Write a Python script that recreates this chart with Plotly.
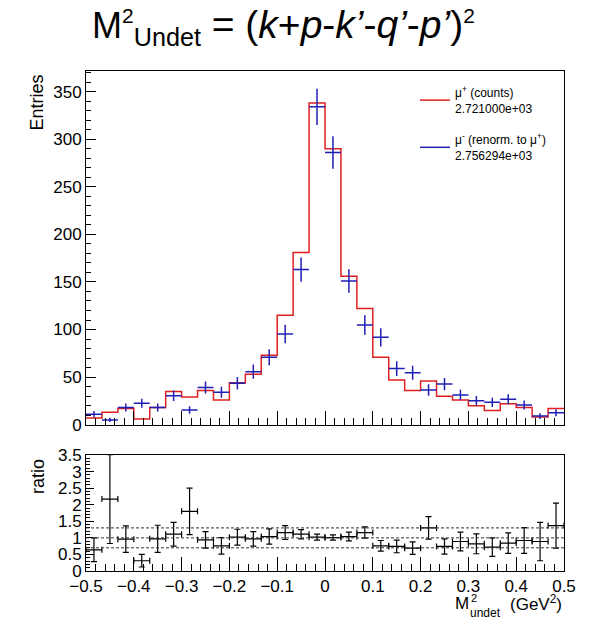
import numpy as np
import plotly.graph_objects as go

# ---------------- data ----------------
x_lo, x_hi, n_bins = -0.5, 0.5, 30
mu_plus_counts = [7, 13, 17, 6, 18, 35, 29, 36, 26, 44, 53, 73, 115, 181, 338,
                  290, 156, 122, 71, 47, 36, 46, 30, 26, 20, 15, 22, 18, 8, 17]
mu_minus_vals = [11, 5, 18, 22.5, 18, 30.5, 15.4, 39, 34, 43.5, 55.7, 70.8, 95.3, 163, 334,
                 286, 151, 104.7, 91.8, 59, 54.6, 36.5, 42.7, 31.2, 25.2, 23.5, 26.7, 20.7, 9.1, 12.6]
mu_minus_errs = [3.3, 2.2, 4.2, 4.8, 4.2, 5.5, 3.9, 6.3, 5.8, 6.6, 7.5, 8.4, 9.8, 12.8, 19,
                 17, 12.3, 10.2, 9.6, 7.7, 7.4, 6.0, 6.5, 5.6, 5.0, 4.8, 5.2, 4.6, 3.0, 3.6]
ratio_vals = [0.64, 2.17, 0.96, 0.31, 0.97, 1.11, 1.80, 0.94, 0.76, 1.02, 0.97, 1.04, 1.16, 1.11, 1.02,
              1.01, 1.04, 1.16, 0.76, 0.74, 0.69, 1.30, 0.74, 0.89, 0.82, 0.72, 0.84, 0.92, 0.89, 1.37]
ratio_errs = [0.36, 1.34, 0.40, 0.19, 0.41, 0.36, 0.70, 0.25, 0.25, 0.24, 0.22, 0.23, 0.21, 0.14, 0.09,
              0.08, 0.13, 0.17, 0.16, 0.19, 0.19, 0.34, 0.23, 0.28, 0.30, 0.28, 0.31, 0.39, 0.58, 0.68]
ref_levels = [0.7, 1.0, 1.3]
legend_plus = "μ<sup>+</sup> (counts)<br>2.721000e+03"
legend_minus = "μ<sup>-</sup> (renorm. to μ<sup>+</sup>)<br>2.756294e+03"

edges = np.linspace(x_lo, x_hi, n_bins + 1)
centers = 0.5 * (edges[:-1] + edges[1:])
half_w = 0.5 * (edges[1] - edges[0])

RED = "#e02020"
BLUE = "#1f1fb4"
FONT = "Liberation Sans, Arial, sans-serif"

fig = go.Figure()

# red step histogram
step_x = list(edges)
step_y = list(mu_plus_counts) + [mu_plus_counts[-1]]
fig.add_trace(go.Scatter(x=step_x, y=step_y, mode="lines", line=dict(color=RED, width=1.5, shape="hv"),
                         name=legend_plus, legendgroup="a", xaxis="x", yaxis="y"))
# blue points
fig.add_trace(go.Scatter(x=centers, y=mu_minus_vals, mode="markers", marker=dict(size=0.1, color=BLUE),
                         error_y=dict(type="data", array=mu_minus_errs, color=BLUE, thickness=1.5, width=0),
                         error_x=dict(type="constant", value=half_w, color=BLUE, thickness=1.5, width=0),
                         showlegend=False, xaxis="x", yaxis="y"))
fig.add_trace(go.Scatter(x=[None], y=[None], mode="lines", line=dict(color=BLUE, width=1.5),
                         name=legend_minus, legendgroup="b", xaxis="x", yaxis="y"))

# ratio
fig.add_trace(go.Scatter(x=centers, y=ratio_vals, mode="markers", marker=dict(size=0.1, color="black"),
                         error_y=dict(type="data", array=ratio_errs, color="black", thickness=1.2, width=3),
                         error_x=dict(type="constant", value=half_w, color="black", thickness=1.2, width=3),
                         showlegend=False, xaxis="x2", yaxis="y2"))
for lv in ref_levels:
    fig.add_shape(type="line", xref="x2", yref="y2", x0=x_lo, x1=x_hi, y0=lv, y1=lv,
                  line=dict(color="#333333", width=1, dash="3px,2px"))

axis_common = dict(showline=True, mirror=True, linecolor="black", linewidth=1, showgrid=False,
                   zeroline=False, ticks="inside", tickcolor="black", tickwidth=1, automargin=False,
                   tickfont=dict(family=FONT, size=17, color="black"))
xd = [86 / 590, 564 / 590]
fig.update_layout(
    width=590, height=620, margin=dict(l=0, r=0, t=0, b=0),
    paper_bgcolor="white", plot_bgcolor="white",
    font=dict(family=FONT, color="black"),
    xaxis=dict(domain=xd, anchor="y", range=[x_lo, x_hi], dtick=0.1, tick0=0, ticklen=14,
               showticklabels=False, minor=dict(ticks="inside", dtick=0.02, ticklen=7, tickcolor="black"),
               **axis_common),
    yaxis=dict(domain=[(620 - 424.7) / 620, (620 - 70.7) / 620], anchor="x", range=[0, 372], dtick=50,
               ticklen=10, minor=dict(ticks="inside", dtick=10, ticklen=5, tickcolor="black"), **axis_common),
    xaxis2=dict(domain=xd, anchor="y2", range=[x_lo, x_hi], dtick=0.1, tick0=0, ticklen=14, matches="x",
                minor=dict(ticks="inside", dtick=0.02, ticklen=7, tickcolor="black"), **axis_common),
    yaxis2=dict(domain=[(620 - 571) / 620, (620 - 455) / 620], anchor="x2", range=[0, 3.5], dtick=0.5,
                ticklen=8, minor=dict(ticks="inside", dtick=0.1, ticklen=4, tickcolor="black"), **axis_common),
    legend=dict(x=415 / 590, y=1 - 78 / 620, xanchor="left", yanchor="top", bgcolor="rgba(0,0,0,0)",
                font=dict(family=FONT, size=12, color="black"), tracegroupgap=13, borderwidth=0),
    showlegend=True,
)

ann = []
ann.append(dict(text="M<sup><span style='font-size:21px'>2</span></sup><sub>Undet</sub>"
                     "<span style='font-size:39px'> = (<i>k</i>+<i>p</i>-<i>k’</i>-<i>q’</i>-<i>p’</i>)</span>"
                     "<sup><span style='font-size:21px'>2</span></sup>",
                x=90 / 590, y=1 - 27 / 620, xref="paper", yref="paper", xanchor="left", yanchor="middle",
                showarrow=False, font=dict(family=FONT, size=36, color="black")))
ann.append(dict(text="Entries", textangle=-90, x=36.5 / 590, y=1 - 73 / 620, xref="paper", yref="paper",
                xanchor="center", yanchor="top", showarrow=False, font=dict(family=FONT, size=18)))
ann.append(dict(text="ratio", textangle=-90, x=37.5 / 590, y=1 - 457 / 620, xref="paper", yref="paper",
                xanchor="center", yanchor="top", showarrow=False, font=dict(family=FONT, size=18)))
ann.append(dict(text="M", x=453 / 590, y=1 - 603 / 620, xref="paper", yref="paper", xanchor="left",
                yanchor="middle", showarrow=False, font=dict(family=FONT, size=17)))
ann.append(dict(text="2", x=469 / 590, y=1 - 598 / 620, xref="paper", yref="paper", xanchor="left",
                yanchor="middle", showarrow=False, font=dict(family=FONT, size=11)))
ann.append(dict(text="undet", x=468 / 590, y=1 - 613 / 620, xref="paper", yref="paper", xanchor="left",
                yanchor="middle", showarrow=False, font=dict(family=FONT, size=12)))
ann.append(dict(text="(GeV<sup>2</sup>)", x=564 / 590, y=1 - 603 / 620, xref="paper", yref="paper",
                xanchor="right", yanchor="middle", showarrow=False, font=dict(family=FONT, size=17)))
fig.update_layout(annotations=ann)

fig.write_html("out.html")
